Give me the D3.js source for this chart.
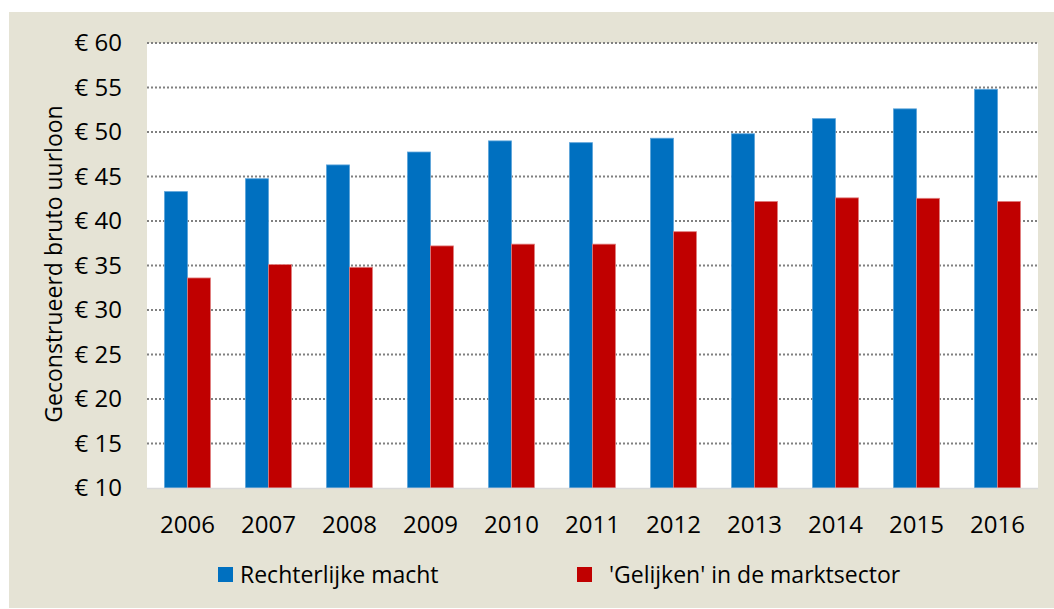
<!DOCTYPE html>
<html>
<head>
<meta charset="utf-8">
<script src="https://cdn.jsdelivr.net/npm/d3@7"></script>
<style>
  body { margin: 0; background: #fff; }
  text { font-family: "Open Sans", sans-serif; fill: #000; }
</style>
</head>
<body>
<script>
// chart data
var years = ["2006", "2007", "2008", "2009", "2010", "2011", "2012", "2013", "2014", "2015", "2016"];
var rechterlijke = [43.3, 44.75, 46.3, 47.75, 49.0, 48.8, 49.3, 49.8, 51.5, 52.6, 54.8];
var gelijken = [33.6, 35.1, 34.8, 37.2, 37.4, 37.4, 38.8, 42.2, 42.6, 42.55, 42.2];
var seriesNames = ["Rechterlijke macht", "'Gelijken' in de marktsector"];
var seriesColors = ["#0070C0", "#C00000"];
var yTicks = [10, 15, 20, 25, 30, 35, 40, 45, 50, 55, 60];

var W = 1054, H = 609;
var plot = {left: 147, right: 1038, top: 43, bottom: 488};

var svg = d3.select("body").append("svg")
    .attr("width", W)
    .attr("height", H);

// beige chart background
svg.append("rect")
    .attr("x", 9).attr("y", 12)
    .attr("width", W - 9).attr("height", 608 - 12)
    .attr("fill", "#E5E3D5");

// white plot area
svg.append("rect")
    .attr("x", plot.left).attr("y", plot.top)
    .attr("width", plot.right - plot.left).attr("height", plot.bottom - plot.top)
    .attr("fill", "#fff");

// scales
var x = d3.scaleBand()
    .domain(years)
    .range([plot.left, plot.right])
    .paddingInner(0.432)
    .paddingOuter(0.216);
var xs = d3.scaleBand()
    .domain([0, 1])
    .range([0, x.bandwidth()]);
var y = d3.scaleLinear()
    .domain([10, 60])
    .range([plot.bottom, plot.top]);

// dotted gridlines
svg.append("g")
    .selectAll("line")
    .data(yTicks.filter(function(d) { return d > 10; }))
  .enter().append("line")
    .attr("x1", plot.left).attr("x2", plot.right)
    .attr("y1", function(d) { return y(d); })
    .attr("y2", function(d) { return y(d); })
    .attr("stroke", "#808080")
    .attr("stroke-width", 2)
    .attr("stroke-dasharray", "2,2");

// bars
var data = years.map(function(yr, i) {
  return {year: yr, values: [rechterlijke[i], gelijken[i]]};
});

var groups = svg.append("g")
    .selectAll("g")
    .data(data)
  .enter().append("g")
    .attr("transform", function(d) { return "translate(" + x(d.year) + ",0)"; });

groups.selectAll("rect")
    .data(function(d) { return d.values.map(function(v, k) { return {k: k, v: v}; }); })
  .enter().append("rect")
    .attr("x", function(d) { return xs(d.k); })
    .attr("width", xs.bandwidth())
    .attr("y", function(d) { return y(d.v); })
    .attr("height", function(d) { return y(10) - y(d.v); })
    .attr("fill", function(d) { return seriesColors[d.k]; })
    .attr("stroke", function(d) { return d.k === 0 ? "#5BA3D9" : "#E07F7F"; })
    .attr("stroke-width", 0.8);

// baseline
svg.append("line")
    .attr("x1", plot.left).attr("x2", plot.right)
    .attr("y1", plot.bottom + 0.5).attr("y2", plot.bottom + 0.5)
    .attr("stroke", "#D9D9D9")
    .attr("stroke-width", 1.5);

// y tick labels
svg.append("g")
    .selectAll("text")
    .data(yTicks)
  .enter().append("text")
    .attr("x", 122)
    .attr("y", function(d) { return y(d); })
    .attr("dy", "0.35em")
    .attr("text-anchor", "end")
    .style("font-size", "24px")
    .text(function(d) { return "€ " + d; });

// x tick labels
svg.append("g")
    .selectAll("text")
    .data(years)
  .enter().append("text")
    .attr("x", function(d) { return x(d) + x.bandwidth() / 2; })
    .attr("y", 533)
    .attr("text-anchor", "middle")
    .style("font-size", "24px")
    .text(function(d) { return d; });

// y axis title
svg.append("text")
    .attr("transform", "translate(62," + 264 + ") rotate(-90)")
    .attr("text-anchor", "middle")
    .style("font-size", "23px")
    .text("Geconstrueerd bruto uurloon");

// legend
var legendX = [218, 577];
var legendTextX = [240, 609];
var legend = svg.append("g");
seriesNames.forEach(function(name, i) {
  legend.append("rect")
      .attr("x", legendX[i]).attr("y", 567)
      .attr("width", 15).attr("height", 15)
      .attr("fill", seriesColors[i]);
  legend.append("text")
      .attr("x", legendTextX[i]).attr("y", 583)
      .style("font-size", "23px")
      .text(name);
});
</script>
</body>
</html>
